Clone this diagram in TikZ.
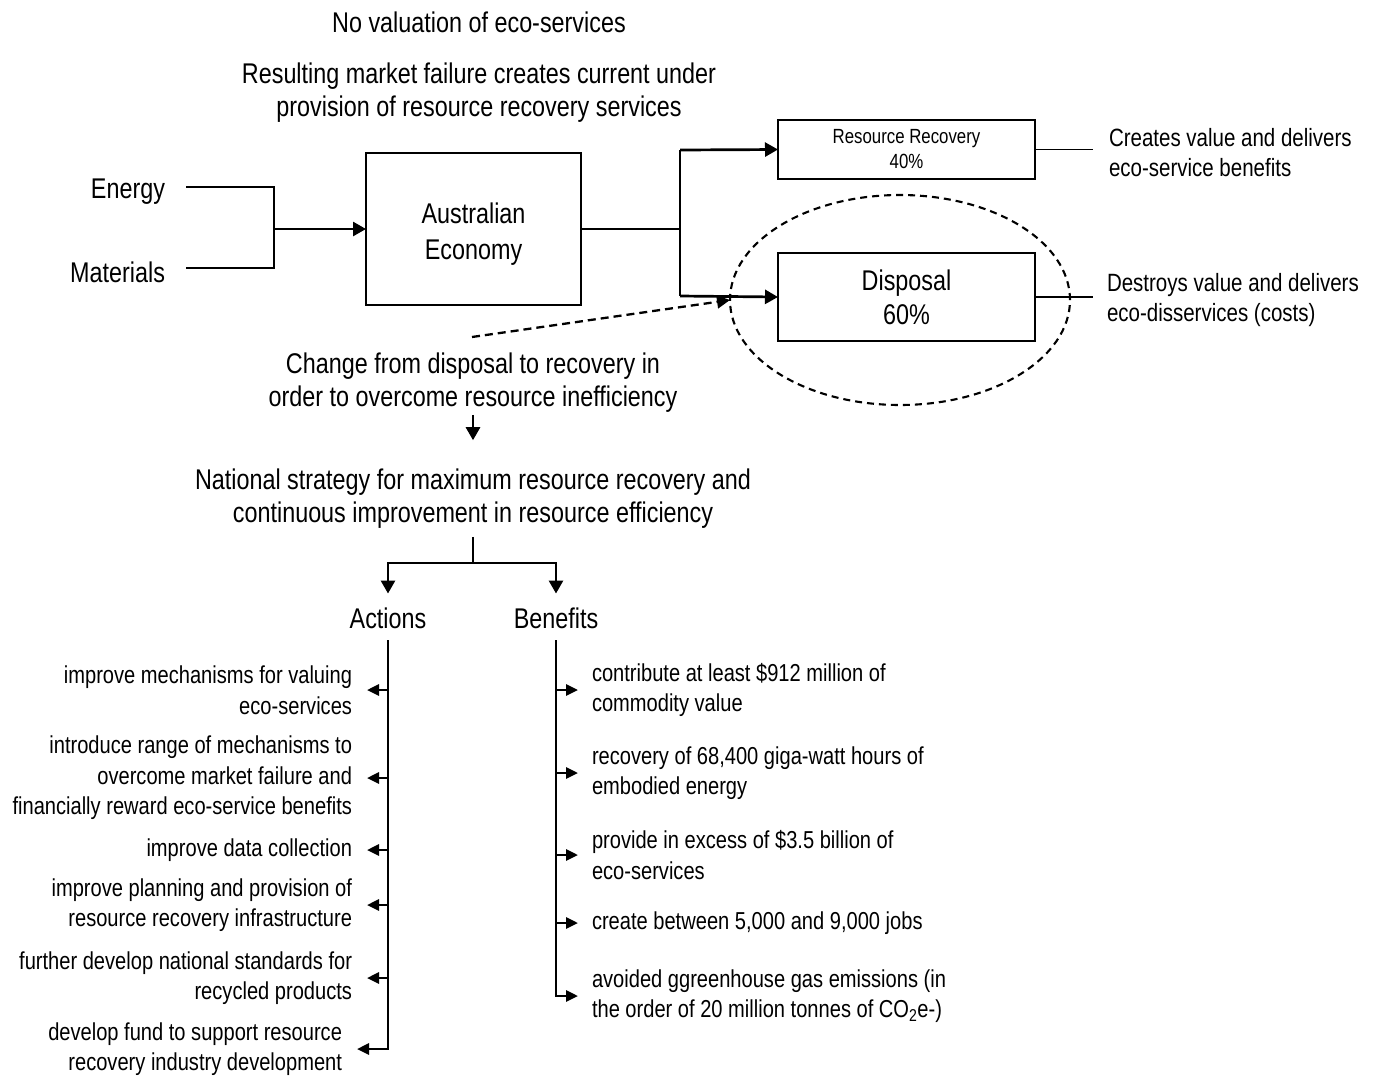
\documentclass[tikz,border=0pt]{standalone}
\usepackage{fontspec}
\setmainfont{Liberation Sans}[FakeStretch=0.82]
\usetikzlibrary{arrows.meta,shapes.geometric}

\begin{document}
\begin{tikzpicture}[x=1pt,y=-1pt,
  every node/.style={inner sep=0pt, outer sep=0pt},
  big/.style={font=\fontsize{28.5}{33}\selectfont, align=center},
  side/.style={font=\fontsize{25}{30}\selectfont, align=left},
  item/.style={font=\fontsize{24.5}{30.5}\selectfont},
  box/.style={draw, line width=1.8pt, align=center},
  conn/.style={line width=2.7pt},
  thinline/.style={line width=1.4pt},
  flow/.style={line width=2.7pt, -{Triangle[length=13pt,width=14pt]}},
  branch/.style={line width=2.7pt, -{Triangle[length=12pt,width=11pt]}},
  hint/.style={line width=2.3pt, dash pattern=on 8pt off 5pt, -{Triangle[length=13pt,width=13pt]}},
]
\useasboundingbox (0,0) rectangle (1373,1077);

% headline texts
\node[big] (noval) at (479,22) {No valuation of eco-services};
\node[big] (fail) at (479,93) {Resulting market failure creates current under\\provision of resource recovery services};

% inputs
\node[big, anchor=east] (energy) at (165,192) {Energy};
\node[big, anchor=east] (mat) at (165,272) {Materials};

% economy and outputs
\node[box, minimum width=215pt, minimum height=152pt] (econ) at (473.5,229) {};
\node[font=\fontsize{28.5}{36}\selectfont, align=center] (econlbl) at (473.5,234) {Australian\\Economy};
\node[box, font=\fontsize{20.5}{25}\selectfont, minimum width=257pt, minimum height=59pt] (rec) at (906.5,149.5) {Resource Recovery\\40\%};
\node[box, font=\fontsize{28.5}{34}\selectfont, minimum width=257pt, minimum height=88pt] (disp) at (906.5,297) {Disposal\\60\%};

\node[side, anchor=west] (rtext) at (1109,153) {Creates value and delivers\\eco-service benefits};
\node[side, anchor=west] (dtext) at (1107,300) {Destroys value and delivers\\eco-disservices (costs)};

% joints of the input and output lines
\coordinate (ej) at (274,187);
\coordinate (mj) at (274,268);
\coordinate (ij) at (274,229);
\coordinate (oj) at (680,229);
\coordinate (rj) at (680,150);
\coordinate (dj) at (680,296);

\draw[conn] ([xshift=21pt,yshift=5pt]energy.east) -- (ej) -- (mj) -- ([xshift=21pt,yshift=4pt]mat.east);
\draw[flow] (ij) -- (econ.west);
\draw[conn] (econ.east) -- (oj);
\draw[conn] (rj) -- (dj);
\draw[flow] (rj) -- (rec.west);
\draw[flow] (dj) -- (disp.west);
\draw[thinline] (rec.east) -- ([xshift=-16pt]rtext.west |- rec.east);
\draw[thinline] (disp.east) -- ([xshift=-14pt]dtext.west |- disp.east);

% dashed ring around disposal
\node[ellipse, draw, line width=2.1pt, dash pattern=on 7pt off 5pt, minimum width=340pt, minimum height=210pt] (ring) at (900,300) {};

% change statement
\node[big] (change) at (473,383) {Change from disposal to recovery in\\order to overcome resource inefficiency};
\coordinate (hstart) at (472,337);
\draw[hint] (hstart) -- (ring.west);

\node[big] (nat) at (473,499) {National strategy for maximum resource recovery and\\continuous improvement in resource efficiency};
\draw[flow] ([yshift=-2pt]change.south) -- ([yshift=29pt]nat.north);

% split into actions and benefits
\node[big] (act) at (388,618) {Actions};
\node[big] (ben) at (556,618) {Benefits};
\coordinate (split) at (473,563);
\draw[conn] ([yshift=-8pt]nat.south) -- (split);
\draw[flow] (split) -| ([yshift=14pt]act.north);
\draw[flow] (split) -| ([yshift=14pt]ben.north);

% actions
\node[item, align=right, anchor=east] (a1) at (352,690) {improve mechanisms for valuing\\eco-services};
\node[item, align=right, anchor=east] (a2) at (352,778) {introduce range of mechanisms to\\overcome market failure and\\financially reward eco-service benefits};
\node[item, align=right, anchor=east] (a3) at (352,850) {improve data collection};
\node[item, align=right, anchor=east] (a4) at (352,905) {improve planning and provision of\\resource recovery infrastructure};
\node[item, align=right, anchor=east] (a5) at (352,978) {further develop national standards for\\recycled products};
\node[item, align=right, anchor=east] (a6) at (342,1049) {develop fund to support resource\\recovery industry development};

\draw[branch] ([yshift=-12pt]act.south) |- ([xshift=15pt]a6.east);
\foreach \n in {a1,a2,a3,a4,a5}
  \draw[branch] (act.south |- \n.east) -- ([xshift=15pt]\n.east);

% benefits
\node[item, align=left, anchor=west] (b1) at (592,690) {contribute at least \$912 million of\\commodity value};
\node[item, align=left, anchor=west] (b2) at (592,773) {recovery of 68,400 giga-watt hours of\\embodied energy};
\node[item, align=left, anchor=west] (b3) at (592,855) {provide in excess of \$3.5 billion of\\eco-services};
\node[item, align=left, anchor=west] (b4) at (592,923) {create between 5,000 and 9,000 jobs};
\node[item, align=left, anchor=west] (b5) at (592,996) {avoided ggreenhouse gas emissions (in\\the order of 20 million tonnes of CO\textsubscript{2}e-)};

\draw[branch] ([yshift=-12pt]ben.south) |- ([xshift=-14pt]b5.west);
\foreach \n in {b1,b2,b3,b4}
  \draw[branch] (ben.south |- \n.west) -- ([xshift=-14pt]\n.west);

\end{tikzpicture}
\end{document}
